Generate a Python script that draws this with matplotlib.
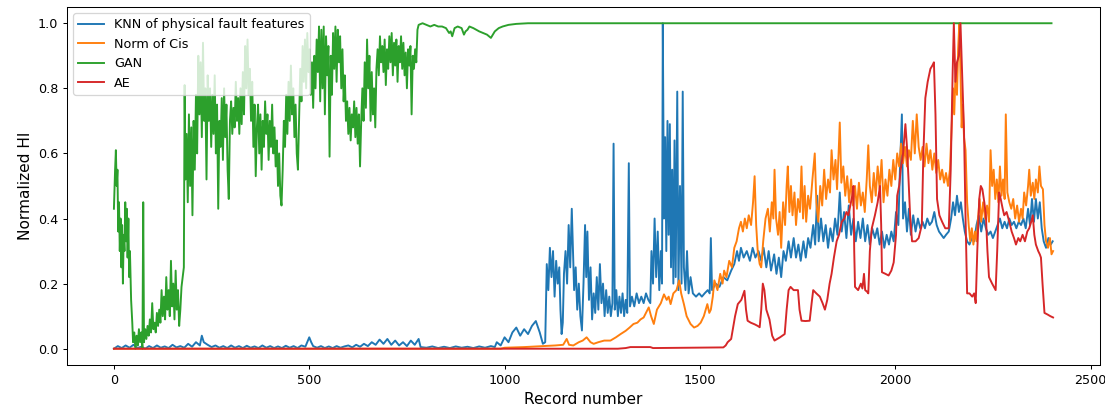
import numpy as np
import matplotlib
matplotlib.use("Agg")
import matplotlib.pyplot as plt

# (record number, normalized HI)
knn = [(0, 0.0), (10, 0.008), (20, 0.002), (30, 0.01), (40, 0.003), (50, 0.012), (60, 0.002),
       (70, 0.006), (80, 0.0), (90, 0.008), (100, 0.002), (110, 0.01), (120, 0.003), (130, 0.007),
       (140, 0.002), (150, 0.012), (160, 0.004), (170, 0.008), (180, 0.003), (190, 0.015),
       (200, 0.006), (210, 0.02), (220, 0.01), (225, 0.04), (230, 0.02), (240, 0.012), (250, 0.005),
       (260, 0.01), (270, 0.003), (280, 0.008), (290, 0.002), (300, 0.01), (310, 0.003), (320, 0.008),
       (330, 0.002), (340, 0.009), (350, 0.003), (360, 0.007), (370, 0.002), (380, 0.01), (390, 0.003),
       (400, 0.008), (410, 0.002), (420, 0.007), (430, 0.002), (440, 0.009), (450, 0.003), (460, 0.008),
       (470, 0.002), (480, 0.01), (490, 0.006), (500, 0.035), (505, 0.02), (510, 0.008), (520, 0.003),
       (530, 0.008), (540, 0.002), (550, 0.007), (560, 0.002), (570, 0.008), (580, 0.003), (590, 0.007),
       (600, 0.01), (610, 0.004), (620, 0.012), (630, 0.006), (640, 0.015), (650, 0.008), (660, 0.02),
       (670, 0.012), (680, 0.028), (690, 0.015), (700, 0.03), (710, 0.012), (720, 0.025), (730, 0.01),
       (740, 0.02), (750, 0.008), (760, 0.025), (770, 0.012), (780, 0.03), (785, 0.005), (800, 0.003),
       (815, 0.007), (830, 0.002), (845, 0.006), (860, 0.002), (875, 0.007), (890, 0.003), (905, 0.006),
       (920, 0.002), (935, 0.007), (950, 0.003), (965, 0.008), (975, 0.005), (980, 0.02), (990, 0.01),
       (1000, 0.035), (1010, 0.02), (1020, 0.05), (1030, 0.065), (1040, 0.04), (1050, 0.06),
       (1060, 0.045), (1070, 0.07), (1080, 0.085), (1090, 0.05), (1098, 0.015), (1104, 0.02),
       (1108, 0.26), (1112, 0.18), (1116, 0.31), (1120, 0.22), (1124, 0.30), (1128, 0.16),
       (1132, 0.27), (1136, 0.20), (1140, 0.25), (1143, 0.12), (1146, 0.045), (1149, 0.08),
       (1152, 0.23), (1156, 0.30), (1160, 0.20), (1164, 0.38), (1168, 0.25), (1172, 0.43),
       (1175, 0.30), (1178, 0.18), (1182, 0.25), (1186, 0.12), (1190, 0.20), (1194, 0.10),
       (1198, 0.056), (1202, 0.20), (1206, 0.38), (1209, 0.22), (1212, 0.36), (1216, 0.15),
       (1220, 0.25), (1224, 0.09), (1228, 0.17), (1232, 0.11), (1236, 0.22), (1240, 0.12),
       (1244, 0.26), (1248, 0.14), (1252, 0.20), (1256, 0.10), (1260, 0.18), (1264, 0.11),
       (1268, 0.16), (1272, 0.10), (1276, 0.14), (1279, 0.63), (1282, 0.12), (1286, 0.18),
       (1290, 0.10), (1294, 0.16), (1298, 0.11), (1302, 0.17), (1306, 0.10), (1310, 0.15),
       (1314, 0.11), (1318, 0.57), (1321, 0.13), (1326, 0.16), (1332, 0.13), (1338, 0.17),
       (1344, 0.14), (1350, 0.16), (1356, 0.14), (1362, 0.17), (1368, 0.15), (1373, 0.14),
       (1376, 0.30), (1380, 0.20), (1384, 0.40), (1388, 0.22), (1392, 0.36), (1396, 0.18),
       (1400, 0.30), (1403, 0.20), (1405, 1.0), (1408, 0.40), (1411, 0.65), (1414, 0.30),
       (1417, 0.70), (1420, 0.35), (1423, 0.69), (1426, 0.25), (1429, 0.55), (1432, 0.20),
       (1435, 0.64), (1438, 0.22), (1442, 0.79), (1445, 0.18), (1449, 0.50), (1453, 0.20),
       (1456, 0.79), (1459, 0.25), (1463, 0.18), (1467, 0.30), (1471, 0.17), (1476, 0.22),
       (1482, 0.17), (1490, 0.16), (1498, 0.17), (1505, 0.16), (1512, 0.17), (1520, 0.18),
       (1525, 0.17), (1528, 0.34), (1531, 0.18), (1540, 0.20), (1550, 0.19), (1560, 0.22),
       (1570, 0.21), (1580, 0.24), (1588, 0.26), (1595, 0.30), (1600, 0.27), (1605, 0.31),
       (1612, 0.28), (1620, 0.30), (1628, 0.27), (1635, 0.31), (1642, 0.28), (1650, 0.30),
       (1657, 0.27), (1663, 0.31), (1670, 0.25), (1676, 0.30), (1682, 0.24), (1690, 0.29),
       (1696, 0.23), (1702, 0.28), (1708, 0.22), (1714, 0.30), (1720, 0.27), (1727, 0.33),
       (1733, 0.28), (1740, 0.34), (1746, 0.28), (1752, 0.32), (1758, 0.27), (1765, 0.33),
       (1771, 0.28), (1777, 0.34), (1783, 0.31), (1790, 0.38), (1795, 0.32), (1800, 0.47),
       (1804, 0.33), (1810, 0.40), (1816, 0.33), (1822, 0.38), (1828, 0.31), (1834, 0.37),
       (1840, 0.33), (1846, 0.40), (1852, 0.35), (1858, 0.48), (1863, 0.36), (1869, 0.42),
       (1875, 0.34), (1881, 0.44), (1887, 0.35), (1893, 0.40), (1899, 0.33), (1905, 0.39),
       (1911, 0.34), (1917, 0.40), (1923, 0.33), (1929, 0.38), (1935, 0.32), (1941, 0.37),
       (1948, 0.34), (1954, 0.37), (1960, 0.32), (1966, 0.36), (1972, 0.31), (1978, 0.35),
       (1984, 0.32), (1990, 0.36), (1996, 0.33), (2002, 0.42), (2008, 0.38), (2012, 0.55),
       (2017, 0.72), (2020, 0.40), (2025, 0.45), (2030, 0.36), (2035, 0.43), (2040, 0.35),
       (2046, 0.41), (2052, 0.36), (2058, 0.40), (2064, 0.37), (2070, 0.39), (2076, 0.37),
       (2082, 0.40), (2088, 0.38), (2094, 0.39), (2100, 0.42), (2106, 0.38), (2112, 0.36),
       (2118, 0.35), (2124, 0.34), (2130, 0.35), (2137, 0.36), (2143, 0.40), (2148, 0.45),
       (2153, 0.41), (2158, 0.47), (2163, 0.42), (2168, 0.45), (2173, 0.40), (2178, 0.36),
       (2184, 0.33), (2190, 0.32), (2196, 0.34), (2202, 0.33), (2208, 0.38), (2214, 0.41),
       (2220, 0.36), (2226, 0.40), (2232, 0.37), (2238, 0.35), (2244, 0.36), (2250, 0.34),
       (2256, 0.36), (2262, 0.38), (2268, 0.40), (2274, 0.37), (2280, 0.39), (2286, 0.37),
       (2292, 0.40), (2298, 0.38), (2304, 0.39), (2310, 0.37), (2316, 0.39), (2322, 0.38),
       (2328, 0.40), (2334, 0.37), (2340, 0.43), (2345, 0.38), (2350, 0.46), (2355, 0.39),
       (2360, 0.46), (2365, 0.40), (2370, 0.45), (2375, 0.37), (2380, 0.33), (2386, 0.31),
       (2392, 0.34), (2398, 0.32), (2403, 0.33)]

cis = [(0, 0.0), (990, 0.0), (1000, 0.003), (1050, 0.005), (1100, 0.008), (1130, 0.01),
       (1150, 0.012), (1159, 0.03), (1165, 0.012), (1176, 0.01), (1190, 0.02), (1200, 0.025),
       (1210, 0.035), (1220, 0.02), (1228, 0.015), (1240, 0.02), (1255, 0.025), (1271, 0.025),
       (1285, 0.035), (1297, 0.045), (1310, 0.055), (1320, 0.065), (1330, 0.076), (1340, 0.08),
       (1348, 0.09), (1356, 0.096), (1362, 0.11), (1369, 0.127), (1375, 0.10), (1382, 0.076),
       (1390, 0.12), (1400, 0.14), (1408, 0.167), (1415, 0.15), (1420, 0.16), (1425, 0.137),
       (1432, 0.17), (1440, 0.18), (1447, 0.21), (1452, 0.17), (1459, 0.137), (1466, 0.10),
       (1476, 0.076), (1485, 0.065), (1494, 0.07), (1502, 0.08), (1510, 0.10), (1519, 0.137),
       (1524, 0.11), (1528, 0.12), (1533, 0.16), (1537, 0.21), (1545, 0.18), (1552, 0.23),
       (1558, 0.20), (1562, 0.24), (1568, 0.22), (1575, 0.27), (1582, 0.25), (1588, 0.31),
       (1594, 0.33), (1600, 0.37), (1605, 0.39), (1610, 0.36), (1615, 0.40), (1620, 0.37),
       (1625, 0.41), (1631, 0.38), (1636, 0.45), (1640, 0.53), (1644, 0.38), (1648, 0.30),
       (1653, 0.26), (1657, 0.25), (1662, 0.33), (1668, 0.40), (1674, 0.43), (1679, 0.36),
       (1684, 0.45), (1688, 0.40), (1691, 0.55), (1695, 0.40), (1700, 0.35), (1704, 0.42),
       (1708, 0.31), (1713, 0.45), (1718, 0.38), (1722, 0.50), (1725, 0.56), (1729, 0.42),
       (1733, 0.50), (1737, 0.41), (1742, 0.48), (1746, 0.38), (1751, 0.46), (1756, 0.42),
       (1760, 0.56), (1764, 0.40), (1768, 0.50), (1772, 0.39), (1777, 0.47), (1782, 0.43),
       (1788, 0.52), (1794, 0.60), (1798, 0.45), (1803, 0.39), (1808, 0.50), (1813, 0.44),
       (1818, 0.55), (1823, 0.46), (1828, 0.52), (1833, 0.48), (1837, 0.61), (1842, 0.52),
       (1847, 0.58), (1851, 0.49), (1855, 0.60), (1858, 0.695), (1862, 0.51), (1867, 0.56),
       (1872, 0.47), (1877, 0.53), (1882, 0.45), (1887, 0.52), (1892, 0.44), (1897, 0.50),
       (1902, 0.43), (1907, 0.51), (1912, 0.44), (1917, 0.48), (1922, 0.42), (1927, 0.52),
       (1931, 0.625), (1935, 0.50), (1940, 0.45), (1945, 0.54), (1950, 0.47), (1955, 0.56),
       (1960, 0.49), (1965, 0.58), (1970, 0.45), (1975, 0.52), (1980, 0.47), (1985, 0.55),
       (1990, 0.50), (1995, 0.58), (2000, 0.52), (2005, 0.60), (2010, 0.56), (2015, 0.63),
       (2020, 0.57), (2025, 0.62), (2030, 0.56), (2035, 0.61), (2040, 0.58), (2045, 0.70),
       (2050, 0.60), (2055, 0.72), (2060, 0.62), (2065, 0.58), (2070, 0.62), (2075, 0.56),
       (2080, 0.63), (2085, 0.57), (2090, 0.61), (2095, 0.55), (2100, 0.60), (2105, 0.54),
       (2110, 0.58), (2115, 0.52), (2120, 0.55), (2125, 0.51), (2130, 0.54), (2135, 0.50),
       (2140, 0.55), (2145, 0.70), (2148, 0.80), (2151, 0.72), (2155, 0.87), (2158, 0.78),
       (2161, 0.92), (2164, 1.0), (2167, 0.85), (2170, 0.68), (2173, 0.75), (2176, 0.65),
       (2180, 0.61), (2184, 0.45), (2188, 0.38), (2192, 0.33), (2196, 0.37), (2200, 0.32),
       (2204, 0.36), (2208, 0.33), (2212, 0.40), (2216, 0.46), (2220, 0.39), (2225, 0.45),
       (2230, 0.40), (2235, 0.44), (2240, 0.39), (2244, 0.61), (2248, 0.50), (2252, 0.55),
       (2256, 0.46), (2260, 0.52), (2264, 0.45), (2268, 0.56), (2272, 0.47), (2276, 0.52),
       (2280, 0.46), (2283, 0.72), (2287, 0.48), (2292, 0.45), (2297, 0.43), (2302, 0.46),
       (2307, 0.40), (2312, 0.44), (2317, 0.39), (2322, 0.43), (2326, 0.40), (2330, 0.48),
       (2335, 0.44), (2340, 0.50), (2343, 0.55), (2347, 0.47), (2352, 0.51), (2356, 0.46),
       (2360, 0.52), (2365, 0.48), (2369, 0.56), (2373, 0.50), (2378, 0.49), (2382, 0.38),
       (2386, 0.33), (2391, 0.31), (2396, 0.34), (2400, 0.29), (2404, 0.30)]

gan = [(0, 0.43), (3, 0.55), (5, 0.61), (7, 0.5), (9, 0.55), (11, 0.36), (13, 0.45), (15, 0.30),
       (17, 0.40), (19, 0.25), (21, 0.38), (23, 0.20), (25, 0.35), (27, 0.30), (29, 0.45), (31, 0.33),
       (33, 0.43), (35, 0.28), (37, 0.40), (39, 0.22), (41, 0.30), (44, 0.15), (47, 0.08), (49, 0.02),
       (52, 0.05), (55, 0.0), (58, 0.04), (61, 0.01), (64, 0.06), (67, 0.02), (70, 0.05), (73, 0.0),
       (75, 0.45), (77, 0.02), (80, 0.06), (83, 0.03), (86, 0.07), (89, 0.04), (92, 0.09), (95, 0.05),
       (98, 0.14), (101, 0.06), (104, 0.08), (107, 0.05), (110, 0.11), (113, 0.07), (116, 0.12),
       (119, 0.08), (122, 0.18), (125, 0.10), (128, 0.16), (131, 0.09), (134, 0.22), (137, 0.12),
       (140, 0.18), (143, 0.10), (146, 0.27), (149, 0.13), (152, 0.20), (155, 0.09), (158, 0.24),
       (161, 0.12), (164, 0.18), (167, 0.07), (170, 0.12), (173, 0.19), (176, 0.22), (179, 0.25),
       (181, 0.81), (183, 0.52), (186, 0.66), (189, 0.45), (192, 0.72), (195, 0.50), (198, 0.68),
       (201, 0.41), (204, 0.70), (207, 0.55), (210, 0.78), (213, 0.60), (216, 0.90), (219, 0.72),
       (222, 0.88), (225, 0.65), (228, 0.94), (231, 0.70), (234, 0.80), (237, 0.52), (240, 0.84),
       (243, 0.70), (246, 0.80), (249, 0.62), (252, 0.78), (255, 0.66), (258, 0.84), (261, 0.60),
       (264, 0.75), (267, 0.43), (270, 0.70), (273, 0.62), (276, 0.77), (279, 0.58), (282, 0.80),
       (285, 0.65), (288, 0.75), (291, 0.55), (294, 0.46), (297, 0.70), (300, 0.76), (303, 0.66),
       (306, 0.74), (309, 0.68), (312, 0.82), (315, 0.70), (318, 0.77), (321, 0.66), (324, 0.80),
       (327, 0.69), (330, 0.85), (333, 0.72), (336, 0.93), (339, 0.80), (342, 0.95), (345, 0.78),
       (348, 0.86), (351, 0.70), (354, 0.82), (357, 0.62), (360, 0.75), (363, 0.53), (366, 0.68),
       (369, 0.75), (372, 0.60), (375, 0.72), (378, 0.55), (381, 0.70), (384, 0.62), (387, 0.76),
       (390, 0.66), (393, 0.72), (396, 0.58), (399, 0.70), (402, 0.62), (405, 0.75), (408, 0.60),
       (411, 0.68), (414, 0.56), (417, 0.64), (420, 0.50), (423, 0.60), (426, 0.47), (429, 0.44),
       (432, 0.55), (435, 0.70), (438, 0.62), (441, 0.78), (444, 0.66), (447, 0.82), (450, 0.70),
       (453, 0.87), (456, 0.72), (459, 0.80), (462, 0.65), (465, 0.75), (468, 0.60), (471, 0.55),
       (474, 0.70), (477, 0.86), (480, 0.76), (483, 0.93), (486, 0.82), (489, 0.95), (492, 0.80),
       (495, 0.97), (498, 0.85), (501, 0.92), (504, 0.78), (507, 0.88), (510, 0.74), (513, 0.90),
       (516, 0.80), (519, 0.95), (522, 0.85), (525, 0.99), (528, 0.76), (531, 0.98), (534, 0.80),
       (537, 0.99), (540, 0.72), (543, 0.96), (546, 0.84), (549, 0.93), (552, 0.59), (555, 0.90),
       (558, 0.78), (561, 0.97), (564, 0.86), (567, 0.99), (570, 0.82), (573, 0.98), (576, 0.88),
       (579, 0.96), (582, 0.80), (585, 0.92), (588, 0.76), (591, 0.84), (594, 0.70), (597, 0.76),
       (600, 0.66), (603, 0.74), (606, 0.64), (609, 0.72), (612, 0.68), (615, 0.76), (618, 0.65),
       (621, 0.74), (624, 0.63), (627, 0.72), (630, 0.56), (633, 0.70), (636, 0.80), (639, 0.70),
       (642, 0.88), (645, 0.74), (648, 0.95), (651, 0.80), (654, 0.90), (657, 0.70), (660, 0.85),
       (663, 0.72), (666, 0.80), (669, 0.68), (672, 0.86), (675, 0.92), (678, 0.84), (681, 0.96),
       (684, 0.88), (687, 0.93), (690, 0.85), (693, 0.95), (696, 0.81), (699, 0.92), (702, 0.86),
       (705, 0.96), (708, 0.88), (711, 0.97), (714, 0.84), (717, 0.94), (720, 0.87), (723, 0.95),
       (726, 0.82), (729, 0.93), (732, 0.88), (735, 0.96), (738, 0.86), (741, 0.94), (744, 0.84),
       (747, 0.91), (750, 0.80), (753, 0.92), (756, 0.87), (759, 0.93), (762, 0.72), (765, 0.90),
       (768, 0.86), (771, 0.92), (774, 0.88), (777, 0.98), (780, 0.995), (790, 1.0), (800, 0.995),
       (810, 0.99), (820, 0.995), (830, 0.99), (840, 0.99), (850, 0.985), (858, 0.97), (862, 0.975),
       (866, 0.96), (872, 0.985), (880, 0.99), (890, 0.985), (896, 0.965), (900, 0.975), (905, 0.98),
       (910, 0.99), (920, 0.985), (935, 0.975), (945, 0.97), (955, 0.965), (965, 0.955), (970, 0.965),
       (975, 0.975), (985, 0.985), (995, 0.99), (1010, 0.995), (1030, 0.998), (1060, 1.0),
       (2400, 1.0)]

ae = [(0, 0.0), (1290, 0.0), (1310, 0.002), (1322, 0.005), (1373, 0.005), (1380, 0.002),
      (1560, 0.004), (1566, 0.01), (1571, 0.02), (1580, 0.03), (1590, 0.10), (1597, 0.137),
      (1606, 0.15), (1614, 0.178), (1618, 0.12), (1622, 0.086), (1630, 0.08), (1640, 0.075),
      (1648, 0.07), (1653, 0.066), (1657, 0.12), (1661, 0.2), (1665, 0.18), (1670, 0.12),
      (1678, 0.09), (1685, 0.04), (1691, 0.025), (1705, 0.035), (1717, 0.045), (1722, 0.12),
      (1727, 0.18), (1732, 0.19), (1740, 0.18), (1751, 0.18), (1755, 0.12), (1760, 0.086),
      (1770, 0.085), (1781, 0.086), (1786, 0.14), (1790, 0.18), (1798, 0.17), (1807, 0.16),
      (1814, 0.14), (1820, 0.12), (1826, 0.15), (1832, 0.20), (1837, 0.23), (1843, 0.28),
      (1850, 0.33), (1856, 0.35), (1863, 0.39), (1870, 0.40), (1875, 0.42), (1880, 0.41),
      (1885, 0.44), (1890, 0.47), (1893, 0.50), (1895, 0.30), (1897, 0.19), (1905, 0.18),
      (1912, 0.20), (1916, 0.185), (1920, 0.23), (1923, 0.18), (1928, 0.175), (1931, 0.17),
      (1935, 0.30), (1940, 0.37), (1948, 0.41), (1955, 0.45), (1961, 0.50), (1964, 0.38),
      (1966, 0.235), (1975, 0.23), (1983, 0.225), (1990, 0.24), (1996, 0.265), (2002, 0.35),
      (2005, 0.47), (2010, 0.50), (2014, 0.55), (2020, 0.60), (2026, 0.69), (2030, 0.62),
      (2034, 0.52), (2038, 0.41), (2043, 0.33), (2052, 0.33), (2060, 0.34), (2068, 0.38),
      (2072, 0.60), (2077, 0.77), (2083, 0.82), (2090, 0.86), (2095, 0.87), (2099, 0.88),
      (2103, 0.72), (2107, 0.46), (2113, 0.41), (2120, 0.39), (2128, 0.37), (2137, 0.37),
      (2142, 0.55), (2147, 0.85), (2150, 1.0), (2154, 0.82), (2158, 0.88), (2163, 0.90),
      (2167, 1.0), (2171, 0.85), (2176, 0.67), (2180, 0.40), (2184, 0.17), (2190, 0.17),
      (2197, 0.16), (2202, 0.17), (2206, 0.14), (2210, 0.30), (2215, 0.46), (2219, 0.50),
      (2223, 0.49), (2228, 0.45), (2232, 0.41), (2236, 0.30), (2240, 0.22), (2248, 0.20),
      (2257, 0.18), (2261, 0.30), (2266, 0.48), (2270, 0.46), (2275, 0.43), (2279, 0.41),
      (2285, 0.42), (2292, 0.39), (2298, 0.36), (2304, 0.34), (2309, 0.32), (2315, 0.34),
      (2320, 0.33), (2326, 0.35), (2332, 0.33), (2338, 0.36), (2343, 0.37), (2348, 0.39),
      (2352, 0.41), (2356, 0.35), (2360, 0.32), (2366, 0.30), (2370, 0.29), (2373, 0.28),
      (2377, 0.20), (2382, 0.11), (2390, 0.105), (2397, 0.10), (2404, 0.096)]

labels = ["KNN of physical fault features", "Norm of Cis", "GAN", "AE"]

dpi = 92
fig = plt.figure(figsize=(1105 / dpi, 410 / dpi), dpi=dpi)
ax = fig.add_axes([0.0606, 0.1098, 0.9349, 0.8732])

for series, name in zip([knn, cis, gan, ae], labels):
    x, y = zip(*series)
    ax.plot(np.array(x), np.array(y), label=name, linewidth=1.5)

ax.set_xlabel("Record number", fontsize=12)
ax.set_ylabel("Normalized HI", fontsize=12)
ax.legend(loc="upper left", fontsize=10)

fig.savefig("out.png", dpi=dpi)
